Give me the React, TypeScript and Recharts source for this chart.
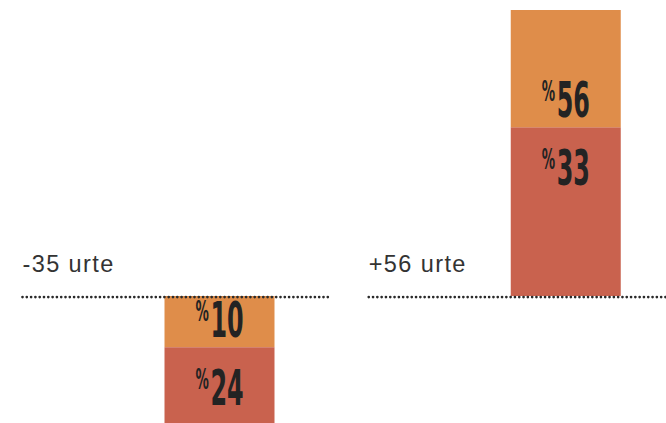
import { BarChart, Bar, XAxis, YAxis, Cell, LabelList } from 'recharts';

const categories = ['-35 urte', '+56 urte'];
const orangeShare = [10, 56];
const redShare = [24, 33];
const side = [-1, 1]; // first group hangs below the line, second stands on it

const ORANGE = '#df8d4a';
const RED = '#c9624e';
const INK = '#232323';

// orange is always above red, so below the line the orange part is the one touching it
const data = categories.map((name, i) => {
  const up = side[i] > 0;
  return {
    name,
    inner: side[i] * (up ? redShare[i] : orangeShare[i]),
    outer: side[i] * (up ? orangeShare[i] : redShare[i]),
    innerColor: up ? RED : ORANGE,
    outerColor: up ? ORANGE : RED,
  };
});

const boxOf = (props: any) => {
  const vb = props.viewBox ?? props;
  const top = Math.min(vb.y, vb.y + vb.height);
  const bottom = Math.max(vb.y, vb.y + vb.height);
  return { x: vb.x, width: vb.width, top, bottom };
};

const valueLabel = (part: 'inner' | 'outer') => (props: any) => {
  const { x, width, top, bottom } = boxOf(props);
  const row = data[props.index];
  const color = part === 'inner' ? row.innerColor : row.outerColor;
  const baseY = color === ORANGE ? bottom - 10 : top + 58;
  const cx = x + width / 2;
  return (
    <text
      transform={`translate(${cx},${baseY}) scale(0.53,1)`}
      textAnchor="middle"
      fill={INK}
      fontFamily="'DejaVu Sans Condensed', 'DejaVu Sans', sans-serif"
      fontWeight="bold"
    >
      <tspan fontSize={28} dy={-16}>%</tspan>
      <tspan fontSize={50} dy={16} dx={3}>{Math.abs(props.value)}</tspan>
    </text>
  );
};

// group name and dotted base line, placed from the bar that touches the line
const groupLine = (props: any) => {
  const { x, width, top, bottom } = boxOf(props);
  const base = props.value >= 0 ? bottom : top;
  return (
    <g>
      <text
        x={x - 142}
        y={base - 24}
        fill="#333"
        fontSize={23.5}
        letterSpacing={1.4}
        fontFamily="'Liberation Sans', Arial, sans-serif"
      >
        {categories[props.index]}
      </text>
      <line
        x1={x - 142}
        x2={x + width + 56}
        y1={base + 1}
        y2={base + 1}
        stroke="#2a2a2a"
        strokeWidth={2.7}
        strokeDasharray="0 4.3"
        strokeLinecap="round"
      />
    </g>
  );
};

export default function App() {
  return (
    <div
      style={{
        position: 'absolute',
        left: 0,
        top: 0,
        width: 666,
        height: 423,
        overflow: 'hidden',
        background: '#fff',
      }}
    >
      <BarChart
        width={739}
        height={423}
        data={data}
        stackOffset="sign"
        margin={{ top: 10, right: 0, bottom: 0, left: 46.5 }}
      >
        <XAxis dataKey="name" hide />
        <YAxis type="number" domain={[-24.8, 55.9]} allowDataOverflow hide />
        <Bar dataKey="inner" stackId="s" barSize={110} isAnimationActive={false}>
          {data.map((d, i) => (
            <Cell key={`in-${i}`} fill={d.innerColor} />
          ))}
          <LabelList dataKey="inner" content={groupLine} />
          <LabelList dataKey="inner" content={valueLabel('inner')} />
        </Bar>
        <Bar dataKey="outer" stackId="s" barSize={110} isAnimationActive={false}>
          {data.map((d, i) => (
            <Cell key={`out-${i}`} fill={d.outerColor} />
          ))}
          <LabelList dataKey="outer" content={valueLabel('outer')} />
        </Bar>
      </BarChart>
    </div>
  );
}
